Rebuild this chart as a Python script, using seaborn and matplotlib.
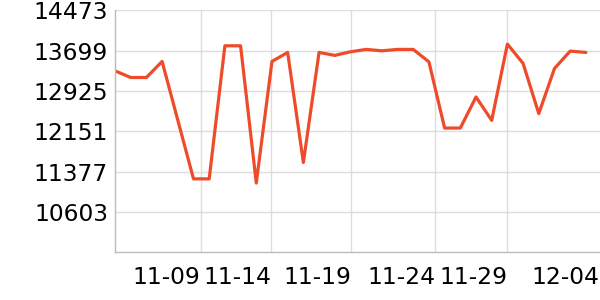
import matplotlib
matplotlib.use("Agg")
import matplotlib.pyplot as plt
import seaborn as sns
import pandas as pd
import numpy as np

# data
dates = pd.date_range("2023-11-04", periods=31, freq="D").strftime("%m-%d").tolist()
values = [13310, 13183, 13183, 13491, 12365, 11238, 11238, 13791, 13791, 11158,
          13491, 13664, 11552, 13664, 13607, 13676, 13722, 13695, 13722, 13722,
          13483, 12213, 12213, 12809, 12361, 13824, 13453, 12490, 13356, 13689,
          13664]
x_tick_labels = ["11-09", "11-14", "11-19", "11-24", "11-29", "12-04"]
x_tick_pos = [5.45, 9.96, 15.05, 20.4, 24.99, 30.85]
y_ticks = [10603, 11377, 12151, 12925, 13699, 14473]

df = pd.DataFrame({"idx": np.arange(len(values)), "date": dates, "value": values})

sns.set_theme(style="white")
plt.rcParams["font.family"] = ["DejaVu Sans"]

fig = plt.figure(figsize=(6, 3), dpi=100)
ax = fig.add_axes([0.1917, 0.159, 0.8083, 0.8068])

sns.lineplot(data=df, x="idx", y="value", ax=ax, color="#EE4B2B", linewidth=2.3)

ax.set_xlim(0, 30.9)
ax.set_ylim(9829, 14473)
ax.set_yticks(y_ticks)
ax.set_yticklabels([str(v) for v in y_ticks])
ax.set_xticks(x_tick_pos)
ax.set_xticklabels(x_tick_labels, ha="right")

ax.grid(True, color="#dddddd", linewidth=1)
ax.set_axisbelow(True)
# last x tick sits at the very edge: no visible grid line / tick mark there
ax.get_xgridlines()[-1].set_visible(False)
ax.xaxis.get_major_ticks()[-1].tick1line.set_visible(False)
for s in ["top", "right"]:
    ax.spines[s].set_visible(False)
for s in ["left", "bottom"]:
    ax.spines[s].set_color("#bbbbbb")
    ax.spines[s].set_linewidth(1)
ax.tick_params(axis="both", which="major", length=3, width=1, color="#bbbbbb",
               labelsize=16.8, labelcolor="black", pad=2)
ax.tick_params(axis="x", pad=7)
ax.set_xlabel("")
ax.set_ylabel("")

fig.savefig("out.png", dpi=100)
